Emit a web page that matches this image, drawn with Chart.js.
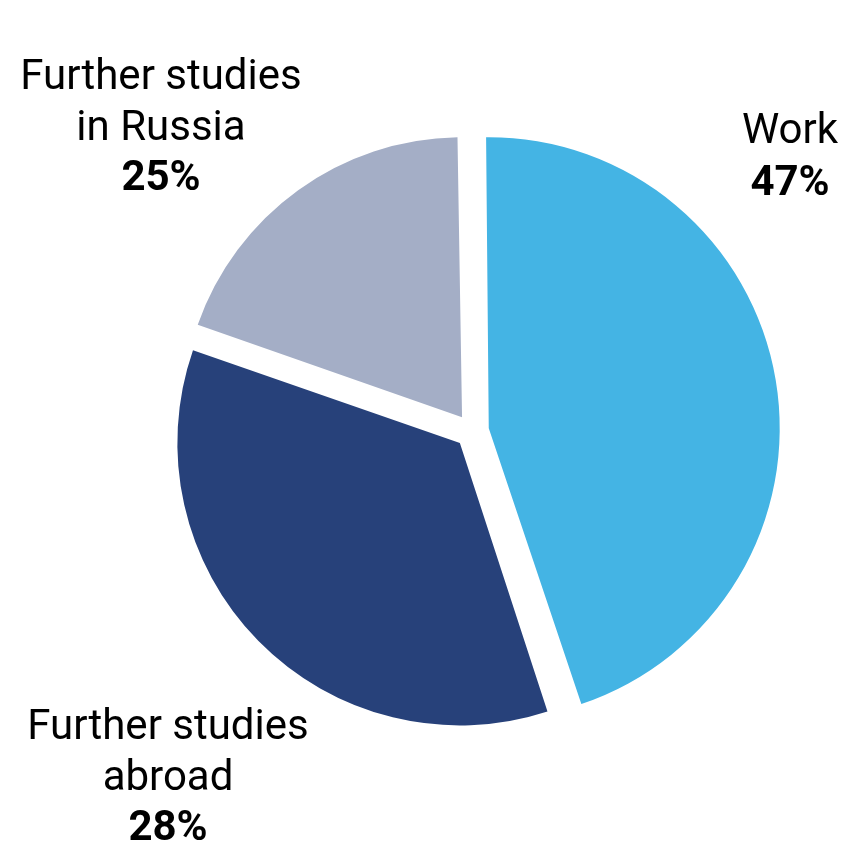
<!DOCTYPE html>
<html>
<head>
<meta charset="utf-8">
<script src="https://cdn.jsdelivr.net/npm/chart.js@4.4.1/dist/chart.umd.min.js"></script>
<style>
  html, body { margin: 0; padding: 0; background: #fff; }
  #wrap { width: 848px; height: 843px; }
</style>
</head>
<body>
<div id="wrap"><canvas id="pie-chart" width="848" height="843"></canvas></div>
<script>
const categories = ["Work", "Further studies abroad", "Further studies in Russia"];
// slice sizes as drawn in the picture (the printed labels say 47 / 28 / 25)
const shares = [45.2, 35.4, 19.4];
const labelLines = [["Work"], ["Further studies", "abroad"], ["Further studies", "in Russia"]];
const percentLabels = ["47%", "28%", "25%"];
const colors = ["#44B4E4", "#27417A", "#A4AEC6"];

// where each label block goes: centre x, first baseline y, line step
const labelPos = [
  { x: 790, y: 143, step: 52 },
  { x: 168, y: 739, step: 50.5 },
  { x: 161, y: 89, step: 50.5 }
];

const outsideLabels = {
  id: "outsideLabels",
  afterDraw(chart) {
    const ctx = chart.ctx;
    ctx.save();
    ctx.fillStyle = "#000";
    ctx.textAlign = "center";
    ctx.textBaseline = "alphabetic";
    categories.forEach((c, i) => {
      let y = labelPos[i].y;
      ctx.font = "42px Roboto";
      labelLines[i].forEach(line => {
        ctx.fillText(line, labelPos[i].x, y);
        y += labelPos[i].step;
      });
      ctx.font = "bold 42px Roboto";
      ctx.fillText(percentLabels[i], labelPos[i].x, y);
    });
    ctx.restore();
  }
};

new Chart(document.getElementById("pie-chart"), {
  type: "pie",
  data: {
    labels: categories,
    datasets: [{
      data: shares,
      backgroundColor: colors,
      borderWidth: 0,
      offset: 68   // chart.js moves each slice by offset / 4
    }]
  },
  options: {
    responsive: false,
    animation: false,
    rotation: -0.9,
    radius: 279,
    layout: { padding: { left: 96, right: 0, top: 19, bottom: 0 } },
    plugins: {
      legend: { display: false },
      tooltip: { enabled: false }
    }
  },
  plugins: [outsideLabels]
});
</script>
</body>
</html>
